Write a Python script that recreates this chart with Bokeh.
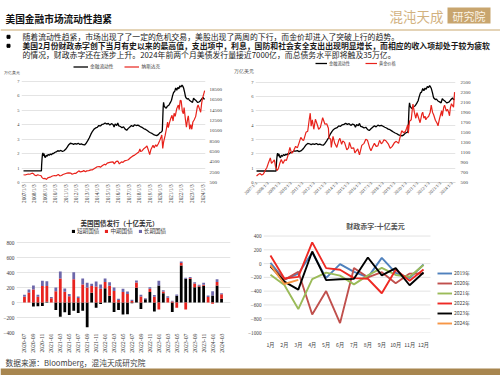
from math import pi
from bokeh.plotting import figure
from bokeh.models import Range1d, LinearAxis, FixedTicker, Legend, LegendItem, Label
from bokeh.layouts import column, row
from bokeh.embed import file_html
from bokeh.resources import INLINE

SERIF = "Liberation Serif"
CJK = "Noto Sans CJK SC"
GRID = "#d9d9d9"
TXT = "#404040"
TAN = "#c9a86f"

# ---------------- texts ----------------
title_text = "美国金融市场流动性趋紧"
bullet_1 = "随着流动性趋紧，市场出现了了一定的危机交易，美股出现了两周的下行，而金价却进入了突破上行的趋势。"
bullet_2 = "美国2月份财政赤字创下当月有史以来的最高值，支出项中，利息，国防和社会安全支出出现明显增长，而相应的收入项却处于较为疲软"
bullet_3 = "的情况，财政赤字还在逐步上升。2024年前两个月美债发行量接近7000亿，而总债务水平即将触及35万亿。"
source_text = "数据来源：Bloomberg，混沌天成研究院"
logo_left = "混沌天成"
logo_right = "研究院"
unit_label = "万亿美元"

# ---------------- line charts data ----------------
year_ticks = list(range(2007, 2025))
year_labels = [f"{y}/1/3" for y in year_ticks]

liq_year = [2007.00, 2007.50, 2008.00, 2008.50, 2008.70, 2008.72, 2008.76, 2008.80, 2008.84, 2008.88,
            2008.95, 2009.00, 2009.08, 2009.15, 2009.25, 2009.35, 2009.45, 2009.55, 2009.65, 2009.75,
            2009.85, 2009.95, 2010.10, 2010.25, 2010.40, 2010.55, 2010.70, 2010.85, 2011.00, 2011.15,
            2011.30, 2011.45, 2011.60, 2011.75, 2011.90, 2012.05, 2012.20, 2012.35, 2012.50, 2012.65,
            2012.80, 2012.95, 2013.10, 2013.25, 2013.40, 2013.55, 2013.70, 2013.85, 2014.00, 2014.15,
            2014.30, 2014.45, 2014.60, 2014.75, 2014.90, 2015.05, 2015.20, 2015.35, 2015.50, 2015.60,
            2015.70, 2015.85, 2015.95, 2016.05, 2016.20, 2016.35, 2016.50, 2016.65, 2016.80, 2016.95,
            2017.10, 2017.25, 2017.40, 2017.55, 2017.70, 2017.85, 2018.00, 2018.15, 2018.30, 2018.45,
            2018.60, 2018.75, 2018.90, 2019.05, 2019.20, 2019.35, 2019.50, 2019.65, 2019.80, 2019.95,
            2020.10, 2020.18, 2020.22, 2020.26, 2020.30, 2020.36, 2020.45, 2020.55, 2020.65, 2020.80,
            2020.95, 2021.05, 2021.15, 2021.25, 2021.35, 2021.45, 2021.55, 2021.65, 2021.75, 2021.85,
            2021.95, 2022.05, 2022.12, 2022.20, 2022.30, 2022.38, 2022.45, 2022.55, 2022.65, 2022.75,
            2022.85, 2022.95, 2023.05, 2023.15, 2023.25, 2023.35, 2023.45, 2023.55, 2023.65, 2023.75,
            2023.85, 2023.95, 2024.05, 2024.12, 2024.20]
liq_value = [0.80, 0.81, 0.80, 0.81, 0.80, 1.20, 1.65, 1.95, 2.05, 1.85,
             2.00, 1.80, 1.72, 1.90, 1.82, 1.95, 1.88, 1.98, 1.92, 2.02,
             2.00, 2.08, 2.12, 2.20, 2.18, 2.22, 2.15, 2.20, 2.30, 2.45,
             2.62, 2.72, 2.70, 2.64, 2.70, 2.66, 2.72, 2.64, 2.68, 2.62,
             2.60, 2.72, 2.90, 3.10, 3.35, 3.55, 3.70, 3.78, 3.82, 3.95,
             3.92, 4.02, 4.05, 4.12, 4.05, 4.10, 3.98, 4.08, 4.02, 3.85,
             4.05, 3.95, 4.12, 3.92, 3.88, 3.80, 3.85, 3.70, 3.62, 3.75,
             3.85, 3.95, 3.88, 4.00, 3.95, 3.98, 3.92, 3.85, 3.80, 3.72,
             3.68, 3.60, 3.52, 3.45, 3.40, 3.32, 3.28, 3.25, 3.32, 3.45,
             3.50, 3.60, 4.40, 5.20, 5.55, 5.30, 5.20, 5.15, 5.28, 5.35,
             5.55, 5.70, 6.00, 6.25, 6.30, 6.55, 6.40, 6.58, 6.50, 6.70,
             6.62, 6.75, 6.68, 6.55, 6.25, 5.95, 5.85, 5.78, 5.82, 5.70,
             5.65, 5.60, 5.55, 5.85, 5.75, 5.70, 5.62, 5.55, 5.58, 5.62,
             5.72, 5.82, 5.90, 5.78, 5.82]

ndx_year = [2007.00, 2007.15, 2007.30, 2007.45, 2007.60, 2007.75, 2007.85, 2007.95, 2008.05, 2008.20,
            2008.35, 2008.50, 2008.65, 2008.75, 2008.85, 2008.95, 2009.05, 2009.18, 2009.30, 2009.45,
            2009.60, 2009.75, 2009.95, 2010.10, 2010.30, 2010.45, 2010.60, 2010.75, 2010.95, 2011.10,
            2011.30, 2011.50, 2011.62, 2011.80, 2011.95, 2012.10, 2012.25, 2012.40, 2012.60, 2012.72,
            2012.88, 2013.00, 2013.20, 2013.40, 2013.55, 2013.70, 2013.85, 2014.00, 2014.20, 2014.30,
            2014.50, 2014.70, 2014.80, 2014.95, 2015.10, 2015.30, 2015.50, 2015.62, 2015.80, 2015.95,
            2016.10, 2016.30, 2016.45, 2016.60, 2016.80, 2016.95, 2017.15, 2017.35, 2017.55, 2017.75,
            2017.95, 2018.05, 2018.12, 2018.25, 2018.45, 2018.60, 2018.72, 2018.85, 2018.98, 2019.10,
            2019.30, 2019.40, 2019.55, 2019.65, 2019.80, 2019.95, 2020.08, 2020.13, 2020.22, 2020.30,
            2020.45, 2020.58, 2020.68, 2020.75, 2020.85, 2020.98, 2021.10, 2021.20, 2021.30, 2021.40,
            2021.55, 2021.70, 2021.78, 2021.88, 2021.97, 2022.08, 2022.18, 2022.25, 2022.38, 2022.47,
            2022.58, 2022.65, 2022.78, 2022.88, 2022.98, 2023.08, 2023.20, 2023.35, 2023.50, 2023.58,
            2023.72, 2023.82, 2023.92, 2024.00, 2024.08, 2024.15, 2024.20]
ndx_value = [2000, 1950, 2050, 2150, 2100, 2250, 2300, 2200, 1950, 1800,
             2000, 1900, 1850, 1500, 1300, 1250, 1300, 1100, 1400, 1500,
             1600, 1750, 1850, 1800, 2050, 1800, 1850, 2050, 2200, 2300,
             2350, 2300, 2100, 2250, 2250, 2500, 2750, 2550, 2650, 2800,
             2600, 2750, 2800, 2950, 2950, 3150, 3350, 3550, 3600, 3450,
             3800, 4050, 3900, 4250, 4350, 4450, 4500, 4100, 4600, 4650,
             4100, 4500, 4400, 4700, 4800, 4900, 5300, 5600, 5800, 6100,
             6400, 7000, 6500, 6600, 7100, 7300, 7600, 6800, 5900, 6900,
             7700, 7200, 7800, 7500, 8000, 8700, 9400, 9700, 7100, 8300,
             9600, 11000, 12200, 11100, 12000, 12900, 13500, 12400, 13900, 13300,
             14800, 15500, 14600, 16400, 16300, 14300, 13800, 15000, 12600, 11200,
             12800, 13400, 10800, 11700, 10800, 12200, 12600, 13300, 15100, 15500,
             14700, 14100, 15900, 16800, 17400, 17900, 18300]

gold_year = [2007.00, 2007.15, 2007.30, 2007.45, 2007.60, 2007.75, 2007.90, 2008.05, 2008.20, 2008.30,
             2008.45, 2008.55, 2008.65, 2008.80, 2008.90, 2009.05, 2009.15, 2009.30, 2009.45, 2009.60,
             2009.75, 2009.90, 2010.05, 2010.20, 2010.40, 2010.55, 2010.70, 2010.85, 2011.00, 2011.10,
             2011.30, 2011.45, 2011.58, 2011.67, 2011.75, 2011.85, 2011.98, 2012.12, 2012.30, 2012.40,
             2012.55, 2012.75, 2012.95, 2013.10, 2013.25, 2013.30, 2013.45, 2013.50, 2013.65, 2013.80,
             2013.98, 2014.15, 2014.25, 2014.40, 2014.50, 2014.65, 2014.85, 2015.00, 2015.08, 2015.25,
             2015.45, 2015.55, 2015.80, 2015.95, 2016.15, 2016.35, 2016.50, 2016.65, 2016.85, 2016.95,
             2017.10, 2017.25, 2017.40, 2017.55, 2017.70, 2017.85, 2017.97, 2018.08, 2018.25, 2018.45,
             2018.62, 2018.80, 2018.98, 2019.15, 2019.35, 2019.50, 2019.62, 2019.80, 2019.95, 2020.05,
             2020.15, 2020.20, 2020.30, 2020.45, 2020.55, 2020.60, 2020.72, 2020.85, 2020.95, 2021.10,
             2021.22, 2021.38, 2021.45, 2021.55, 2021.65, 2021.72, 2021.85, 2021.95, 2022.10, 2022.19,
             2022.30, 2022.40, 2022.55, 2022.70, 2022.78, 2022.90, 2023.00, 2023.10, 2023.15, 2023.28,
             2023.35, 2023.50, 2023.60, 2023.70, 2023.78, 2023.85, 2023.95, 2024.05, 2024.13, 2024.18,
             2024.22]
gold_value = [630, 660, 680, 650, 670, 740, 800, 900, 990, 880,
              920, 950, 820, 740, 780, 900, 960, 880, 950, 940,
              1050, 1200, 1080, 1120, 1220, 1190, 1290, 1400, 1350, 1340,
              1500, 1520, 1750, 1880, 1620, 1750, 1560, 1760, 1640, 1560,
              1600, 1790, 1660, 1670, 1580, 1390, 1360, 1200, 1420, 1280,
              1200, 1340, 1380, 1260, 1330, 1300, 1150, 1190, 1300, 1180,
              1190, 1090, 1170, 1050, 1240, 1280, 1360, 1340, 1180, 1130,
              1210, 1280, 1220, 1230, 1340, 1270, 1300, 1350, 1330, 1270,
              1180, 1220, 1290, 1320, 1280, 1420, 1530, 1490, 1520, 1580,
              1650, 1480, 1720, 1750, 1970, 2060, 1900, 1780, 1890, 1780,
              1690, 1870, 1900, 1780, 1820, 1750, 1800, 1810, 1900, 2040,
              1900, 1850, 1740, 1680, 1630, 1760, 1850, 1930, 1820, 2000,
              2040, 1920, 1960, 1900, 1830, 1980, 2070, 2030, 2000, 2160,
              2300]

# ---------------- treasury issuance (bn USD) ----------------
months = ["2020-07", "2020-08", "2020-09", "2020-10", "2020-11", "2020-12",
          "2021-01", "2021-02", "2021-03", "2021-04", "2021-05", "2021-06",
          "2021-07", "2021-08", "2021-09", "2021-10", "2021-11", "2021-12",
          "2022-01", "2022-02", "2022-03", "2022-04", "2022-05", "2022-06",
          "2022-07", "2022-08", "2022-09", "2022-10", "2022-11", "2022-12",
          "2023-01", "2023-02", "2023-03", "2023-04", "2023-05", "2023-06",
          "2023-07", "2023-08", "2023-09", "2023-10", "2023-11", "2023-12",
          "2024-01", "2024-02", "2024-03"]
bills = [0, 0, -53, -50, -45, 10, 0, -100, -190, -130, -165, -110, -140, -110, -330,
         130, -70, -20, 190, 90, -125, -100, -160, -155, -10, 196, -85, 45, 140, -120,
         228, 124, 0, -125, 90, 493, 318, 318, 204, 215, 222, 0, 93, 227, 49]
notes = [78, 133, 175, 78, 220, 210, 58, 150, 320, 142, 85, 310, 60, 240, 200,
         90, 215, 185, 85, 135, 155, 35, 140, 112, 20, 70, 80, 0, 45, 78,
         -93, 22, 65, 15, -70, 35, -93, 10, 50, 8, 15, 75, -18, 45, 60]
bonds = [24, 40, 52, 24, 70, 65, 17, 50, 93, 45, 30, 94, 20, 80, 62,
         29, 65, 55, 45, 46, 45, 14, 42, 35, 16, 27, 22, 13, 20, 22,
         62, 18, 19, 10, 17, 19, 12, 12, 17, 14, 25, 20, 58, 39, 15]

# ---------------- fiscal deficit (bn USD) ----------------
month_labels = ["1月", "2月", "3月", "4月", "5月", "6月", "7月", "8月", "9月", "10月", "11月", "12月"]
def_2019 = [9, -234, -147, 160, -208, -8, -120, -200, 83, -134, -209, -13]
def_2020 = [-33, -235, -119, -738, -399, -864, -63, -200, -125, -284, -145, -144]
def_2021 = [-163, -311, -660, -226, -132, -174, -302, -171, -62, -165, -191, -21]
def_2022 = [119, -217, -193, 308, -66, -89, -211, -220, -430, -88, -249, -85]
def_2023 = [-39, -262, -378, 176, -240, -228, -221, 89, -171, -67, -314, -129]
def_2024 = [-22, -296, -236]
deficit_ticks = list(range(-1000, 401, 200))


def style_axis(ax, size="5px", font=SERIF, standoff=2):
    ax.axis_line_color = None
    ax.major_tick_line_color = None
    ax.minor_tick_line_color = None
    ax.major_tick_out = 0
    ax.major_tick_in = 0
    ax.minor_tick_out = 0
    ax.minor_tick_in = 0
    ax.axis_label_standoff = 0
    ax.major_label_text_font = font
    ax.major_label_text_font_size = size
    ax.major_label_text_color = TXT
    ax.major_label_standoff = standoff


def base_fig(w, h, xr, yr, l, r, t, b):
    f = figure(width=w, height=h, x_range=xr, y_range=yr, output_backend="svg",
               toolbar_location=None, title=None, min_border_left=l, min_border_right=r,
               min_border_top=t, min_border_bottom=b)
    f.outline_line_color = None
    f.xgrid.visible = False
    f.ygrid.grid_line_color = GRID
    f.ygrid.grid_line_width = 0.7
    return f


def plain_fig(w, h, xr, yr):
    f = figure(width=w, height=h, x_range=xr, y_range=yr, output_backend="svg",
               toolbar_location=None, title=None, min_border=0)
    f.axis.visible = False
    f.grid.visible = False
    f.outline_line_color = None
    return f


def legend(items, loc, orient, font_size, gw, gh, lh, spacing):
    return Legend(items=items, orientation=orient, location=loc, padding=0, margin=0,
                  spacing=spacing, label_standoff=2, glyph_width=gw, glyph_height=gh,
                  label_height=lh, label_text_font=CJK, label_text_font_size=font_size,
                  label_text_color=TXT, border_line_color=None, background_fill_alpha=0)


# ---------------- header (500 x 60) ----------------
hdr = plain_fig(500, 60, Range1d(0, 500), Range1d(60, 0))
hdr.segment(x0=[0], y0=[29.5], x1=[500], y1=[29.5], line_color=TAN, line_width=1)
hdr.quad(left=[447], right=[490], top=[7], bottom=[23], fill_color="#c8a56e", line_color=None)
hdr.scatter(x=[8, 8], y=[36.3, 45.3], marker="square", size=3, color="black")
hdr.add_layout(Label(x=5, y=18, text=title_text, text_font=CJK, text_font_style="bold",
                     text_font_size="9.7px", text_baseline="middle", text_color="#111111"))
hdr.add_layout(Label(x=389, y=15, text=logo_left, text_font=CJK, text_font_size="13.5px",
                     text_baseline="middle", text_color="#d2b27f"))
hdr.add_layout(Label(x=468.5, y=15, text=logo_right, text_font=CJK, text_font_size="11px",
                     text_baseline="middle", text_align="center", text_color="#fbf4e6"))
for yy, txt, st in [(36.3, bullet_1, "normal"), (45.3, bullet_2, "bold"), (54.2, bullet_3, "normal")]:
    hdr.add_layout(Label(x=22, y=yy, text=txt, text_font=CJK, text_font_size="7.85px",
                         text_font_style=st, text_baseline="middle", text_color="#1a1a1a"))

# ---------------- chart 1: liquidity vs Nasdaq (228 x 158) ----------------
# frame: x 20..205, y 60..182 (0 at 182, 7 at 81)
p1 = base_fig(228, 158, Range1d(2006.81, 2024.28), Range1d(0, 8.455), 20, 23, 0, 36)
p1.extra_y_ranges = {"r": Range1d(500, 24113)}
unit1 = 7.62
p1.yaxis.ticker = FixedTicker(ticks=list(range(0, 8)) + [unit1])
p1.yaxis.major_label_overrides = {unit1: unit_label}
p1.ygrid.ticker = FixedTicker(ticks=list(range(0, 8)))
style_axis(p1.yaxis[0], size="4.4px", standoff=2)
r_liq1 = p1.line(liq_year, liq_value, line_color="black", line_width=1.3)
r_ndx = p1.line(ndx_year, ndx_value, line_color="#e8221b", line_width=1.2, y_range_name="r")
ax1r = LinearAxis(y_range_name="r", ticker=FixedTicker(ticks=list(range(500, 18501, 2000))))
style_axis(ax1r, standoff=4)
p1.add_layout(ax1r, "right")
p1.xaxis.ticker = FixedTicker(ticks=year_ticks)
p1.xaxis.major_label_overrides = dict(zip(year_ticks, year_labels))
p1.xaxis.major_label_orientation = pi / 2
style_axis(p1.xaxis[0], size="5.2px", standoff=2)
p1.xaxis.axis_line_color = GRID
p1.add_layout(legend([LegendItem(label="金融流动性", renderers=[r_liq1]),
                      LegendItem(label="纳斯达克", renderers=[r_ndx])],
                     (52, 113), "horizontal", "4.7px", 15, 5, 5, 11))

# ---------------- chart 2: liquidity vs gold (272 x 158) ----------------
# frame: x 255..455, y 60..190 (0 at 190, 7 at 83)
p2 = base_fig(272, 158, Range1d(2006.91, 2024.30), Range1d(0, 8.505), 27, 45, 0, 28)
p2.extra_y_ranges = {"r": Range1d(500, 2930)}
unit2 = 7.72
p2.yaxis.ticker = FixedTicker(ticks=list(range(0, 8)) + [unit2])
p2.yaxis.major_label_overrides = {unit2: unit_label}
p2.ygrid.ticker = FixedTicker(ticks=list(range(0, 8)))
style_axis(p2.yaxis[0], size="4.5px", standoff=2)
r_liq2 = p2.line(liq_year, liq_value, line_color="black", line_width=1.3)
r_gold = p2.line(gold_year, gold_value, line_color="#e8221b", line_width=1.2, y_range_name="r")
ax2r = LinearAxis(y_range_name="r", ticker=FixedTicker(ticks=list(range(500, 2501, 200))))
style_axis(ax2r, standoff=5)
p2.add_layout(ax2r, "right")
p2.xaxis.ticker = FixedTicker(ticks=year_ticks)
p2.xaxis.major_label_overrides = dict(zip(year_ticks, year_labels))
p2.xaxis.major_label_orientation = pi / 4
style_axis(p2.xaxis[0], size="4.6px", standoff=0)
p2.xaxis.axis_line_color = GRID
p2.add_layout(legend([LegendItem(label="金融流动性", renderers=[r_liq2]),
                      LegendItem(label="黄金价格", renderers=[r_gold])],
                     (60, 116), "horizontal", "4.2px", 12, 4, 4, 15))

# ---------------- chart 3: treasury issuance (245 x 139) ----------------
# frame: x 15..230, y 218..332 (-400 at 332, 800 at 242)
idx = list(range(len(months)))
p3 = base_fig(245, 139, Range1d(-1.78, 46.0), Range1d(-400, 1120), 15, 15, 0, 25)
p3.yaxis.ticker = FixedTicker(ticks=list(range(-400, 801, 200)))
style_axis(p3.yaxis[0], size="5.4px", standoff=2)
pos = [0.0] * len(idx)
neg = [0.0] * len(idx)
bar_items = []
for name, vals, col in [("短期国债", bills, "#000000"), ("中期国债", notes, "#e8231f"),
                        ("长期国债", bonds, "#6d67aa")]:
    bot, top = [], []
    for i, v in enumerate(vals):
        if v >= 0:
            bot.append(pos[i]); top.append(pos[i] + v); pos[i] += v
        else:
            bot.append(neg[i]); top.append(neg[i] + v); neg[i] += v
    rr = p3.vbar(x=idx, bottom=bot, top=top, width=0.62, fill_color=col, line_color=None)
    bar_items.append(LegendItem(label=name, renderers=[rr]))
p3.xaxis.ticker = FixedTicker(ticks=idx[::2])
p3.xaxis.major_label_overrides = {i: months[i] for i in idx[::2]}
p3.xaxis.major_label_orientation = pi / 2
style_axis(p3.xaxis[0], size="5.8px", standoff=1)
p3.add_layout(legend(bar_items, (55, 97), "horizontal", "5.6px", 4, 4, 6, 5))
p3.add_layout(Label(x=103, y=110, x_units="screen", y_units="screen", text="美国国债发行（十亿美元）",
                    text_font=CJK, text_font_size="6.5px", text_font_style="bold",
                    text_align="center", text_baseline="middle", text_color="#333333"))

# ---------------- chart 4: fiscal deficit (255 x 139) ----------------
# frame: x 263..500 (months 0.5..12.5 over 263..430), y 218..335 (-1000 at 335, 400 at 236)
p4 = base_fig(255, 139, Range1d(0.5, 17.53), Range1d(-1000, 654.5), 18, 0, 0, 22)
p4.ygrid.visible = False
p4.yaxis.ticker = FixedTicker(ticks=deficit_ticks)
style_axis(p4.yaxis[0], size="5.2px", standoff=2)
p4.segment(x0=[0.5] * len(deficit_ticks), x1=[12.5] * len(deficit_ticks), y0=deficit_ticks,
           y1=deficit_ticks, line_color=GRID, line_width=0.7, level="underlay")
line_items = []
for name, vals, col in [("2019年", def_2019, "#4f81bd"), ("2020年", def_2020, "#c0504d"),
                        ("2021年", def_2021, "#9bbb59"), ("2022年", def_2022, "#ee2a24"),
                        ("2023年", def_2023, "#000000"), ("2024年", def_2024, "#f79646")]:
    rr = p4.line(list(range(1, len(vals) + 1)), vals, line_color=col, line_width=1.9)
    line_items.append(LegendItem(label=name, renderers=[rr]))
p4.xaxis.ticker = FixedTicker(ticks=list(range(1, 13)))
p4.xaxis.major_label_overrides = {i + 1: m for i, m in enumerate(month_labels)}
style_axis(p4.xaxis[0], size="5.2px", font=CJK, standoff=8)
p4.add_layout(legend(line_items, (174, 6), "vertical", "5px", 15, 6, 7, 3))
p4.add_layout(Label(x=112, y=107, x_units="screen", y_units="screen", text="财政赤字-十亿美元",
                    text_font=CJK, text_font_size="7px", text_font_style="bold",
                    text_align="center", text_baseline="middle", text_color="#555555"))

# ---------------- footer (500 x 18) ----------------
ftr = plain_fig(500, 18, Range1d(0, 500), Range1d(375, 357))
ftr.quad(left=[0], right=[500], top=[368], bottom=[375], fill_color="#a8864f", line_color=None)
ftr.add_layout(Label(x=5, y=362.3, text=source_text, text_font=CJK, text_font_size="7.7px",
                     text_baseline="middle", text_color=TXT))

layout = column(hdr, row(p1, p2), row(p3, p4), ftr)
open("out.html", "w").write(file_html(layout, INLINE, title="美国金融市场流动性趋紧"))
